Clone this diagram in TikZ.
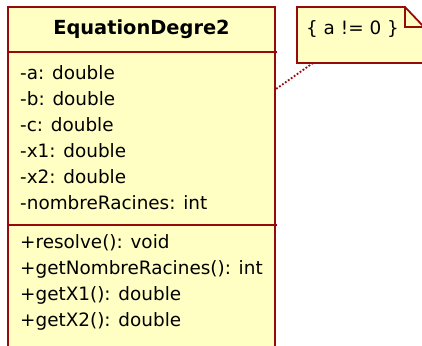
\documentclass[tikz,border=0pt]{standalone}
\usepackage{fontspec}
\setmainfont{DejaVu Sans}
\definecolor{umlfill}{RGB}{255,255,196}
\definecolor{umlline}{RGB}{150,10,10}
\begin{document}
\begin{tikzpicture}[x=1pt,y=-1pt,
  box/.style={fill=umlfill,draw=umlline,line width=1.8pt},
  sep/.style={draw=umlline,line width=1.8pt},
  txt/.style={anchor=west,inner sep=0pt,font=\fontsize{18.4}{22}\selectfont},
  ttl/.style={inner sep=0pt,font=\fontsize{19.4}{22}\selectfont\bfseries}]
\useasboundingbox (0,0) rectangle (422,345);
\clip (0,0) rectangle (422,345);
% class box
\draw[box] (8,7) rectangle (275,360);
\draw[sep] (8,52) -- (277,52);
\draw[sep] (8,225) -- (277,225);
\node[ttl] (title) at (141.5,29.5) {EquationDegre2};
\node[txt] (a1) at (20,73) {-a: double};
\node[txt] (a2) at (20,99) {-b: double};
\node[txt] (a3) at (20,125) {-c: double};
\node[txt] (a4) at (20,151) {-x1: double};
\node[txt] (a5) at (20,177) {-x2: double};
\node[txt] (a6) at (20,203) {-nombreRacines: int};
\node[txt] (m1) at (20,243) {+resolve(): void};
\node[txt] (m2) at (20,269) {+getNombreRacines(): int};
\node[txt] (m3) at (20,295) {+getX1(): double};
\node[txt] (m4) at (20,321) {+getX2(): double};
% note
\draw[box] (297,7) -- (405,7) -- (424,27) -- (424,63) -- (297,63) -- cycle;
\draw[sep] (405,7) -- (405,27) -- (424,27);
\node[txt] (note) at (306,29) {\{ a != 0 \}};
\coordinate (nanchor) at (313,63);
\coordinate (canchor) at (276,89);
\draw[umlline,line width=1.8pt,dash pattern=on 1.8pt off 1.8pt] (nanchor) -- (canchor);
\end{tikzpicture}
\end{document}
